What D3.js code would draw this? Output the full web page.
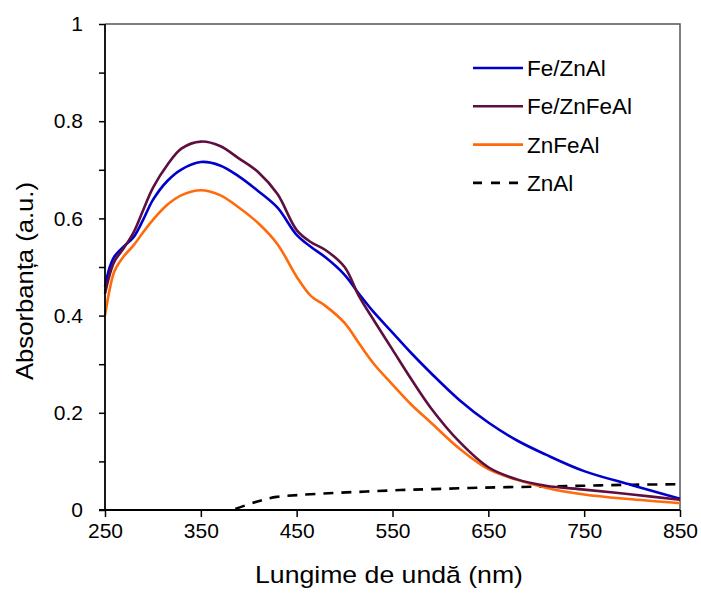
<!DOCTYPE html>
<html>
<head>
<meta charset="utf-8">
<script src="https://cdn.jsdelivr.net/npm/d3@7/dist/d3.min.js"></script>
<style>
  html, body { margin: 0; padding: 0; background: #fff; }
  text { font-family: Arial, "Liberation Sans", sans-serif; fill: #000; }
</style>
</head>
<body>
<svg id="chart" width="701" height="595"></svg>
<script>
// ---- data ----
const wavelengths = [250, 255, 260, 270, 280, 290, 300, 315, 330, 350, 370, 390, 410, 430, 450, 465, 480, 500, 515, 530, 550, 570, 590, 620, 650, 680, 710, 750, 800, 850];
const feZnAl =      [0.46, 0.50, 0.522, 0.543, 0.562, 0.598, 0.638, 0.677, 0.701, 0.716, 0.709, 0.686, 0.656, 0.622, 0.566, 0.541, 0.52, 0.484, 0.445, 0.408, 0.365, 0.322, 0.282, 0.226, 0.18, 0.143, 0.114, 0.08, 0.051, 0.023];
const feZnFeAl =    [0.445, 0.485, 0.512, 0.54, 0.572, 0.618, 0.663, 0.71, 0.744, 0.758, 0.749, 0.723, 0.695, 0.65, 0.576, 0.551, 0.535, 0.50, 0.44, 0.392, 0.33, 0.268, 0.21, 0.14, 0.088, 0.063, 0.05, 0.042, 0.032, 0.021];
const znFeAl =      [0.40, 0.455, 0.492, 0.523, 0.545, 0.572, 0.597, 0.628, 0.648, 0.658, 0.648, 0.622, 0.59, 0.547, 0.48, 0.44, 0.42, 0.385, 0.343, 0.302, 0.258, 0.216, 0.18, 0.126, 0.084, 0.062, 0.046, 0.032, 0.022, 0.014];
const znAlWavelengths = [386, 408, 429, 453, 488, 523, 558, 592, 644, 700, 750, 800, 850];
const znAl =            [0.002, 0.017, 0.027, 0.031, 0.035, 0.038, 0.041, 0.043, 0.046, 0.048, 0.05, 0.052, 0.053];
const seriesNames = ["Fe/ZnAl", "Fe/ZnFeAl", "ZnFeAl", "ZnAl"];
const seriesColors = ["#0000cc", "#5e0f40", "#ff6a0a", "#000000"];
const xTicks = [250, 350, 450, 550, 650, 750, 850];
const yTicks = [0, 0.1, 0.2, 0.3, 0.4, 0.5, 0.6, 0.7, 0.8, 0.9, 1];
const yLabels = ["0", "", "0.2", "", "0.4", "", "0.6", "", "0.8", "", "1"];
const xTitle = "Lungime de undă (nm)";
const yTitle = "Absorbanța (a.u.)";

// ---- layout ----
const mLeft = 105, mTop = 24, mRight = 680, mBottom = 510;
const svg = d3.select("#chart");
const x = d3.scaleLinear().domain([250, 850]).range([mLeft, mRight]);
const y = d3.scaleLinear().domain([0, 1]).range([mBottom, mTop]);

// frame (top & right)
svg.append("path")
  .attr("d", `M${mLeft},${mTop}H${mRight}V${mBottom}`)
  .attr("fill", "none").attr("stroke", "#555").attr("stroke-width", 1.5);

// lines
const line = d3.line().x(d => x(d[0])).y(d => y(d[1])).curve(d3.curveCatmullRom.alpha(0.5));
const seriesData = [
  wavelengths.map((w, i) => [w, feZnAl[i]]),
  wavelengths.map((w, i) => [w, feZnFeAl[i]]),
  wavelengths.map((w, i) => [w, znFeAl[i]]),
  znAlWavelengths.map((w, i) => [w, znAl[i]])
];
const drawOrder = [3, 2, 0, 1];
drawOrder.forEach(k => {
  svg.append("path")
    .datum(seriesData[k])
    .attr("d", line)
    .attr("fill", "none")
    .attr("stroke", seriesColors[k])
    .attr("stroke-width", 2.6)
    .attr("stroke-dasharray", k === 3 ? "10,8" : null)
    .attr("stroke-linejoin", "round");
});

// axes
const xAxis = d3.axisBottom(x).tickValues(xTicks).tickSize(7).tickSizeOuter(0).tickPadding(6).tickFormat(d3.format("d"));
const gx = svg.append("g").attr("transform", `translate(0,${mBottom})`).call(xAxis);
gx.select(".domain").attr("stroke", "#000").attr("stroke-width", 1.8).attr("d", `M${mLeft - 6},0H${mRight}`);
gx.selectAll(".tick line").attr("stroke", "#000").attr("stroke-width", 1.5);
gx.selectAll(".tick text").attr("font-size", 21).attr("font-family", "Arial, 'Liberation Sans', sans-serif").attr("fill", "#000");

const yAxis = d3.axisLeft(y).tickValues(yTicks).tickSize(6).tickSizeOuter(0).tickPadding(16)
  .tickFormat((d, i) => yLabels[i]);
const gy = svg.append("g").attr("transform", `translate(${mLeft},0)`).call(yAxis);
gy.select(".domain").attr("stroke", "#000").attr("stroke-width", 1.8).attr("d", `M0,${mBottom}V${mTop}`);
gy.selectAll(".tick line").attr("stroke", "#000").attr("stroke-width", 1.5);
gy.selectAll(".tick text").attr("font-size", 21).attr("font-family", "Arial, 'Liberation Sans', sans-serif").attr("fill", "#000");

// axis titles
svg.append("text")
  .attr("x", 389).attr("y", 583)
  .attr("text-anchor", "middle")
  .attr("font-size", 24)
  .attr("textLength", 268).attr("lengthAdjust", "spacingAndGlyphs")
  .text(xTitle);
svg.append("text")
  .attr("transform", "translate(33,281) rotate(-90)")
  .attr("text-anchor", "middle")
  .attr("font-size", 24)
  .attr("textLength", 198).attr("lengthAdjust", "spacingAndGlyphs")
  .text(yTitle);

// legend
const lg = svg.append("g");
seriesNames.forEach((name, i) => {
  const ly = 68 + i * 38.3;
  lg.append("line")
    .attr("x1", 473).attr("x2", 523).attr("y1", ly).attr("y2", ly)
    .attr("stroke", seriesColors[i]).attr("stroke-width", 2.6)
    .attr("stroke-dasharray", i === 3 ? "9,9" : null);
  lg.append("text")
    .attr("x", 527).attr("y", ly + 8)
    .attr("font-size", 22.5)
    .text(name);
});
</script>
</body>
</html>
